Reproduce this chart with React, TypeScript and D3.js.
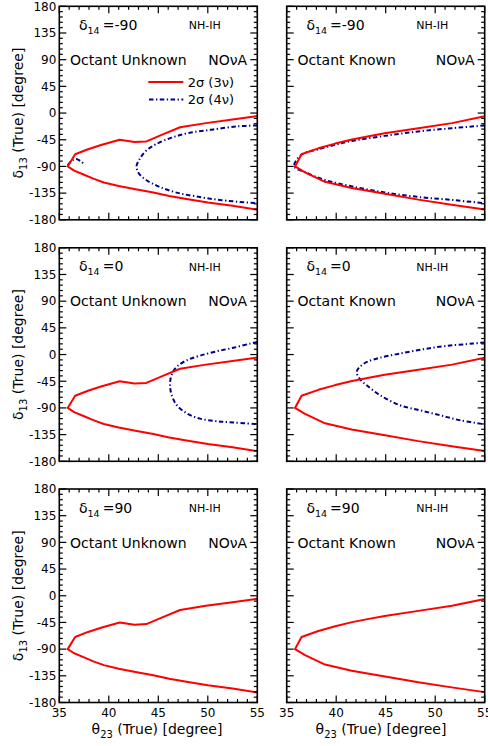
import React from 'react';
import * as d3 from 'd3';

// ---------- data ----------
const thetaTicks = [35, 40, 45, 50, 55];
const deltaTicks = [180, 135, 90, 45, 0, -45, -90, -135, -180];
const delta14Labels = ['-90', '0', '90'];
const octantLabels = ['Octant Unknown', 'Octant Known'];

// 2σ (3ν), Octant Unknown: upper end -> tip -> lower end  [θ23, δ13]
const red3nuUnknown: [number, number][] = [
  [55, -5], [52.5, -11], [49.8, -17], [47.2, -24], [45.4, -36.5], [43.8, -47.8],
  [42.6, -49], [41.1, -45], [39.3, -53.5], [37.9, -61], [36.6, -69.5], [35.85, -90],
  [36.5, -97], [37.5, -104], [38.5, -111], [39.5, -117], [41, -123], [42.7, -128.5],
  [44.5, -134], [46.1, -140], [48, -145.5], [50, -151], [52.5, -156.5], [55, -163],
];
// 2σ (3ν), Octant Known
const red3nuKnown: [number, number][] = [
  [55, -5.5], [51.7, -17], [48.3, -25.5], [44.9, -34], [43.3, -39], [41.6, -44.5],
  [39.9, -51.5], [38.2, -59.5], [36.5, -69.5], [35.84, -90],
  [36.85, -100], [38.87, -116], [41.56, -126.5], [44.93, -136], [48.3, -146],
  [51.66, -154.5], [55, -162.5],
];
// 2σ (4ν), δ14 = -90, Octant Unknown
const blue4nuUnknownM90Arc: [number, number][] = [
  [35.85, -88], [36.2, -81], [36.7, -77.5], [37.1, -80.5], [37.6, -87],
];
const blue4nuUnknownM90: [number, number][] = [
  [55, -21], [53, -22.5], [50.4, -28], [48.1, -33.5], [46.35, -41.5], [44.7, -53],
  [43.7, -64.5], [43.1, -78], [42.8, -90], [43.0, -101], [43.7, -112], [45, -123.5],
  [46.7, -133.5], [48.8, -140.5], [51.4, -147], [55, -152],
];
// 2σ (4ν), δ14 = -90, Octant Known
const blue4nuKnownM90: [number, number][] = [
  [55, -21], [51.7, -25.5], [48.3, -31], [44.9, -38.5], [41.6, -47], [39.9, -53.5],
  [38.2, -61], [36.5, -70], [35.75, -90], [36.85, -99.5], [38.87, -113],
  [41.56, -123.5], [44.93, -134], [48.3, -141.5], [51.66, -146.5], [55, -152],
];
// 2σ (4ν), δ14 = 0, Octant Unknown
const blue4nuUnknown0: [number, number][] = [
  [55, 21], [54.3, 18.5], [52.6, 11.5], [50.9, 5.5], [49.2, -2], [47.9, -9.5],
  [46.9, -20], [46.4, -32], [46.2, -45], [46.2, -56], [46.35, -68], [46.85, -85],
  [47.9, -99.5], [49.2, -108], [50.9, -112.5], [52.6, -114.5], [55, -117.5],
];
// 2σ (4ν), δ14 = 0, Octant Known
const blue4nuKnown0: [number, number][] = [
  [55, 20.5], [53.8, 18.5], [51.1, 14.5], [48.8, 9], [46.4, 1.5], [44.4, -5.5],
  [43.1, -12.5], [42.4, -20.5], [42.07, -29], [42.4, -41.5], [43.08, -51.8],
  [44.43, -68.6], [46.45, -85.5], [48.47, -94], [50.5, -102.4], [52.5, -110.8], [55, -117.6],
];

const legendLabels = ['2σ (3ν)', '2σ (4ν)'];

// ---------- layout ----------
const W = 488;
const H = 746;
const colLeft = [59.3, 286.7];
const colWidth = 198;
const rowTop = [6.3, 247.8, 489];
const rowHeight = 213.5;
const RED = '#ff0000';
const BLUE = '#00008b';
const FONT = 'DejaVu Sans, Verdana, sans-serif';
const DASH = '4.5,2.5,1.3,2.5';

function Panel({ row, col }: { row: number; col: number }) {
  const x0 = colLeft[col];
  const y0 = rowTop[row];
  const x = d3.scaleLinear().domain([35, 55]).range([x0, x0 + colWidth]);
  const y = d3.scaleLinear().domain([-180, 180]).range([y0 + rowHeight, y0]);
  const lin = d3.line<[number, number]>().x(d => x(d[0])).y(d => y(d[1]));
  const smoothLine = d3
    .line<[number, number]>()
    .x(d => x(d[0]))
    .y(d => y(d[1]))
    .curve(d3.curveCatmullRom.alpha(0.5));

  const red = col === 0 ? red3nuUnknown : red3nuKnown;
  const blues: [number, number][][] = [];
  if (row === 0) {
    if (col === 0) {
      blues.push(blue4nuUnknownM90Arc, blue4nuUnknownM90);
    } else {
      blues.push(blue4nuKnownM90);
    }
  } else if (row === 1) {
    blues.push(col === 0 ? blue4nuUnknown0 : blue4nuKnown0);
  }

  const minorX = d3.range(35, 55.01, 1);
  const minorY = d3.range(-180, 180.01, 9);
  const clipId = `clip-${row}-${col}`;
  const xr = x0 + colWidth;
  const yb = y0 + rowHeight;

  return (
    <g>
      <defs>
        <clipPath id={clipId}>
          <rect x={x0} y={y0} width={colWidth} height={rowHeight} />
        </clipPath>
      </defs>
      <g clipPath={`url(#${clipId})`}>
        {blues.map((b, i) => (
          <path key={i} d={smoothLine(b) || ''} fill="none" stroke={BLUE}
            strokeWidth={2} strokeDasharray={DASH} />
        ))}
        <path d={lin(red) || ''} fill="none" stroke={RED} strokeWidth={2} strokeLinejoin="round" />
      </g>
      {minorX.map(v => {
        const L = v % 5 === 0 ? 7 : 3.5;
        return (
          <g key={'x' + v}>
            <line x1={x(v)} x2={x(v)} y1={yb} y2={yb - L} stroke="#000" strokeWidth={1.2} />
            <line x1={x(v)} x2={x(v)} y1={y0} y2={y0 + L} stroke="#000" strokeWidth={1.2} />
          </g>
        );
      })}
      {minorY.map(v => {
        const L = v % 45 === 0 ? 7 : 3.5;
        return (
          <g key={'y' + v}>
            <line x1={x0} x2={x0 + L} y1={y(v)} y2={y(v)} stroke="#000" strokeWidth={1.2} />
            <line x1={xr} x2={xr - L} y1={y(v)} y2={y(v)} stroke="#000" strokeWidth={1.2} />
          </g>
        );
      })}
      <rect x={x0} y={y0} width={colWidth} height={rowHeight} fill="none" stroke="#000" strokeWidth={1.6} />

      {col === 0 &&
        deltaTicks.map(v => (
          <text key={'yl' + v} x={x0 - 3} y={y(v)} dy="0.36em" textAnchor="end"
            fontSize={12} fontFamily={FONT}>{v}</text>
        ))}
      {row === 2 &&
        thetaTicks.map(v => (
          <text key={'xl' + v} x={x(v)} y={yb + 14} textAnchor="middle"
            fontSize={12} fontFamily={FONT}>{v}</text>
        ))}
      {col === 0 && (
        <text transform={`translate(22.5,${(y0 + yb) / 2}) rotate(-90)`} textAnchor="middle"
          fontSize={14} fontFamily={FONT}>
          <tspan>δ</tspan>
          <tspan fontSize={10} dy={4}>13</tspan>
          <tspan dy={-4}> (True) [degree]</tspan>
        </text>
      )}
      {row === 2 && (
        <text x={col === 0 ? 157 : 381} y={yb + 31} textAnchor="middle" fontSize={14} fontFamily={FONT}>
          <tspan>θ</tspan>
          <tspan fontSize={10} dy={4}>23</tspan>
          <tspan dy={-4}> (True) [degree]</tspan>
        </text>
      )}

      <text x={x0 + 19.7} y={y0 + 23.5} fontSize={14} fontFamily={FONT}>
        <tspan>δ</tspan>
        <tspan fontSize={9.5} dy={4}>14 </tspan>
        <tspan dy={-4}>={delta14Labels[row]}</tspan>
      </text>
      <text x={x0 + 129.5} y={y0 + 23} fontSize={11} fontFamily={FONT}>NH-IH</text>
      <text x={x0 + 10.7} y={y(90) + 5.2} fontSize={14} fontFamily={FONT}>{octantLabels[col]}</text>
      <text x={x0 + 149} y={y(90) + 5.2} fontSize={14} fontFamily={FONT}>NOνA</text>

      {row === 0 && col === 0 && (
        <g>
          <line x1={148.3} x2={183.3} y1={82} y2={82} stroke={RED} strokeWidth={2} />
          <text x={187.7} y={86.5} fontSize={13} fontFamily={FONT}>{legendLabels[0]}</text>
          <line x1={149} x2={183.3} y1={99.5} y2={99.5} stroke={BLUE} strokeWidth={2} strokeDasharray={DASH} />
          <text x={187.7} y={104} fontSize={13} fontFamily={FONT}>{legendLabels[1]}</text>
        </g>
      )}
    </g>
  );
}

export default function App() {
  const panels: [number, number][] = [];
  for (let r = 0; r < 3; r++) for (let c = 0; c < 2; c++) panels.push([r, c]);
  return (
    <svg width={W} height={H} viewBox={`0 0 ${W} ${H}`}
      style={{ position: 'absolute', left: 0, top: 0, background: '#fff' }}>
      <rect x={0} y={0} width={W} height={H} fill="#fff" />
      {panels.map(([r, c]) => (
        <Panel key={`${r}-${c}`} row={r} col={c} />
      ))}
    </svg>
  );
}
